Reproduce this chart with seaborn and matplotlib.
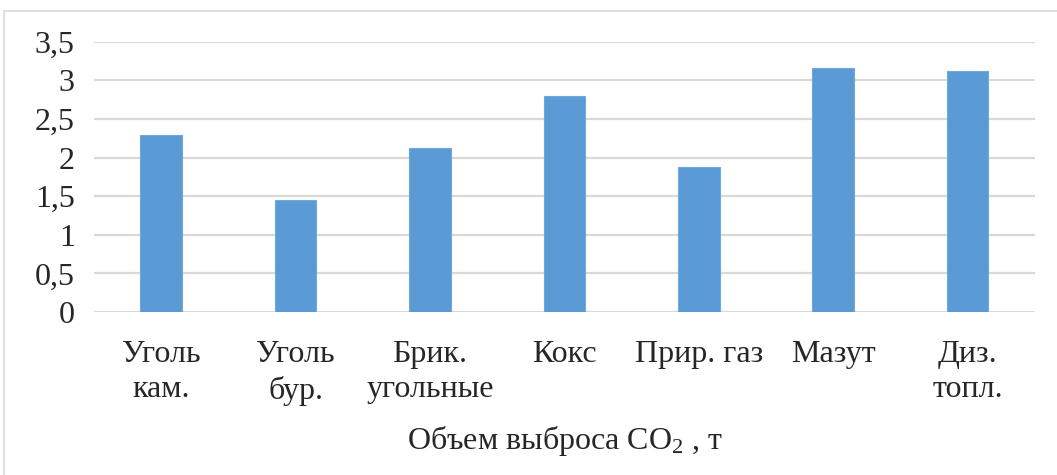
import pandas as pd
import numpy as np
import matplotlib
matplotlib.use('Agg')
import matplotlib.pyplot as plt
import matplotlib.ticker as mticker
from matplotlib.patches import Rectangle
import seaborn as sns

# Data
categories = ['Уголь\nкам.', 'Уголь\nбур.', 'Брик.\nугольные', 'Кокс',
              'Прир. газ', 'Мазут', 'Диз.\nтопл.']
emissions = [2.29, 1.45, 2.12, 2.80, 1.88, 3.16, 3.12]
y_ticks = [0, 0.5, 1, 1.5, 2, 2.5, 3, 3.5]

df = pd.DataFrame({'fuel': categories, 'co2': emissions})

sns.set_theme(style='white')
plt.rcParams['font.family'] = ['Liberation Serif', 'DejaVu Serif']
plt.rcParams['mathtext.fontset'] = 'custom'
plt.rcParams['mathtext.rm'] = 'Liberation Serif'
plt.rcParams['mathtext.it'] = 'Liberation Serif:italic'

fig = plt.figure(figsize=(10.57, 4.75), dpi=100)
ax = fig.add_axes([0.089, 0.343, 0.890, 0.569])

sns.barplot(data=df, x='fuel', y='co2', color='#5b9bd5', saturation=1,
            width=0.31, ax=ax, edgecolor='#6fa8dc', linewidth=0.8)

ax.set_ylim(0, 3.5)
ax.set_yticks(y_ticks)
ax.yaxis.set_major_formatter(mticker.FuncFormatter(
    lambda v, p: f'{v:g}'.replace('.', ',')))
ax.grid(axis='y', color='#d9d9d9', linewidth=1.6)
ax.set_axisbelow(True)
for s in ax.spines.values():
    s.set_visible(False)
ax.tick_params(axis='y', length=0, pad=14, labelsize=23)
ax.tick_params(axis='x', length=0, pad=20, labelsize=23)
for lbl in ax.get_xticklabels():
    lbl.set_linespacing(1.3)
ax.set_ylabel('')
ax.set_xlabel('Объем выброса CO$_2$ , т', fontsize=23, labelpad=13)

# light outer frame like the source image
fig.patches.append(Rectangle((0.004, -0.1), 1.2, 0.977 + 0.1, transform=fig.transFigure,
                             fill=False, edgecolor='#d9d9d9', linewidth=1.2))

fig.savefig('out.png', dpi=100)
